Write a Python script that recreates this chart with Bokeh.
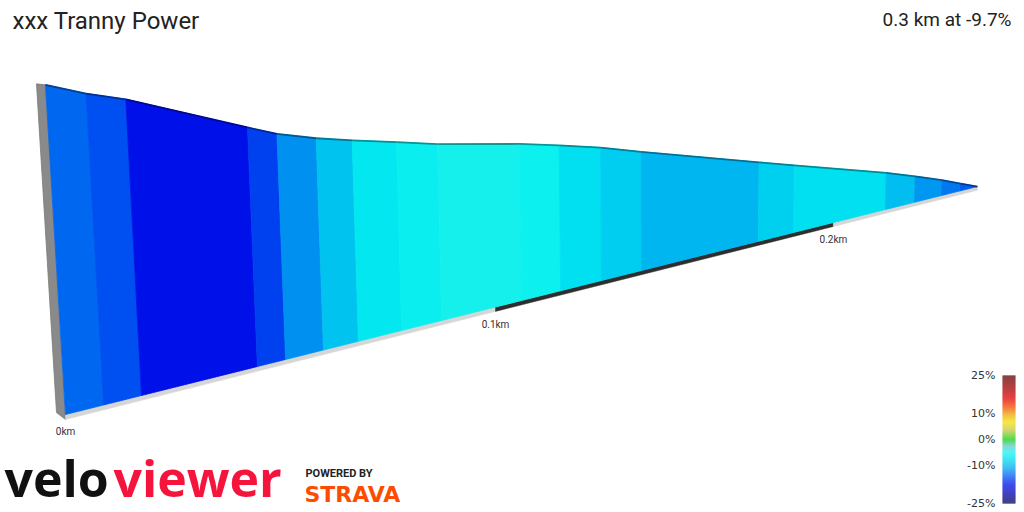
import math
from bokeh.plotting import figure
from bokeh.models import Range1d
from bokeh.core.properties import value
from bokeh.embed import file_html
from bokeh.resources import INLINE

# ---------------- data ----------------
title = "xxx Tranny Power"
dist_m = [0, 7.9, 15.9, 41.5, 48.0, 56.9, 65.3, 75.9, 86.0, 106.9, 117.6,
          129.0, 140.5, 175.8, 187.0, 217.6, 227.7, 237.3, 244.1, 250.3]
elev_m = [24.3, 23.2, 22.3, 18.6, 17.7, 16.8, 16.1, 15.3, 14.5, 13.2, 12.4,
          11.5, 10.4, 7.2, 6.2, 3.5, 2.5, 1.5, 0.7, 0.0]
grade_pct = [-13.7, -14.7, -17.5, -15.3, -12.0, -9.3, -6.6, -5.8, -4.8, -5.5,
             -7.3, -8.6, -10.1, -8.4, -7.3, -9.6, -11.7, -13.0, -14.1]
km_ticks = [0.0, 0.1, 0.2]
km_labels = ["0km", "0.1km", "0.2km"]
scale_ticks = [25, 10, 0, -10, -25]
scale_labels = ["25%", "10%", "0%", "-10%", "-25%"]

# ---------------- colour scale ----------------
stop_v = [-25, -21, -17.5, -15, -13, -11, -9, -7, -5, -2.5, 0, 4, 7, 10, 12.5, 16, 19, 25]
stop_c = ["#000050", "#0000b0", "#0010e8", "#0048f0", "#0078f0", "#00a8f0", "#00c8f0",
          "#00e4f0", "#10f4f0", "#60c8c8", "#10d010", "#d0c840", "#f0e000", "#f0a000",
          "#f05000", "#e80000", "#b00000", "#600000"]


def hex2rgb(h):
    return [int(h[i:i + 2], 16) for i in (1, 3, 5)]


def rgb2hex(c):
    return "#%02x%02x%02x" % tuple(max(0, min(255, int(round(v)))) for v in c)


def grade_color(v):
    v = max(stop_v[0], min(stop_v[-1], v))
    for i in range(len(stop_v) - 1):
        if stop_v[i] <= v <= stop_v[i + 1]:
            t = (v - stop_v[i]) / (stop_v[i + 1] - stop_v[i])
            a, b = hex2rgb(stop_c[i]), hex2rgb(stop_c[i + 1])
            return rgb2hex([a[j] + (b[j] - a[j]) * t for j in range(3)])
    return stop_c[-1]


def shade(h, f):
    return rgb2hex([c * f for c in hex2rgb(h)])


# ---------------- perspective view ----------------
X0, Y0 = 65.0, 414.0      # screen position of start of route (front bottom)
A, B = 4886.0, 1.363      # perspective along distance (px/km, 1/km)
SLOPE = -0.25             # screen slope of the base line
VPX, VPY = 675.0, 10474.0 # vanishing point of verticals
K = 13.59                 # px per metre of elevation at d=0
min_e = min(elev_m)


def base(dkm):
    s = 1.0 / (1.0 + B * dkm)
    xb = X0 + A * dkm * s
    yb = Y0 + SLOPE * (xb - X0)
    return xb, yb, s


def proj(dkm, h):
    xb, yb, s = base(dkm)
    vx, vy = xb - VPX, yb - VPY
    n = math.hypot(vx, vy)
    H = K * s * h
    return xb + vx / n * H, yb + vy / n * H


p = figure(width=1024, height=512, x_range=Range1d(0, 1024), y_range=Range1d(512, 0),
           output_backend="svg", toolbar_location=None,
           x_axis_location=None, y_axis_location=None, min_border=0)
p.grid.visible = False
p.outline_line_color = None
p.background_fill_color = "white"
p.border_fill_color = "white"

dkm = [d / 1000.0 for d in dist_m]
h = [e - min_e for e in elev_m]
end_km = dkm[-1]

# left (start) face of the slab
tx, ty = proj(0, h[0])
bx, by, s0 = base(0)
p.patch([tx, tx - 9, bx - 9, bx], [ty, ty - 1, by - 2, by + 5],
        fill_color="#8a8a8a", line_color="#7a7a7a", line_width=0.8)

# base strip with alternating 0.1 km sections
seg_edges = km_ticks + [end_km]
strip_cols = ["#d6d6d6", "#2e2e2e", "#d6d6d6"]
sxs, sys_, scs = [], [], []
for i in range(len(seg_edges) - 1):
    xa, ya, sa = base(seg_edges[i])
    xb2, yb2, sb = base(seg_edges[i + 1])
    sxs.append([xa, xb2, xb2, xa])
    sys_.append([ya, yb2, yb2 + 5 * sb, ya + 5 * sa])
    scs.append(strip_cols[i % len(strip_cols)])
p.patches(sxs, sys_, fill_color=scs, line_color=scs, line_width=0.5)

# wall bands coloured by gradient
xs, ys, cols, txs, tys, tcols = [], [], [], [], [], []
for i in range(len(dkm) - 1):
    xa, ya, _ = base(dkm[i])
    xb2, yb2, _ = base(dkm[i + 1])
    ta = proj(dkm[i], h[i])
    tb = proj(dkm[i + 1], h[i + 1])
    c = grade_color(grade_pct[i])
    xs.append([xa, xb2, tb[0], ta[0]])
    ys.append([ya, yb2, tb[1], ta[1]])
    cols.append(c)
    txs.append([ta[0], tb[0]])
    tys.append([ta[1], tb[1]])
    tcols.append(shade(c, 0.62))
p.patches(xs, ys, fill_color=cols, line_color=cols, line_width=0.8)
p.multi_line(txs, tys, line_color=tcols, line_width=1.8)

# distance labels
lx, ly = [], []
for d in km_ticks:
    x_, y_, _ = base(d)
    lx.append(x_)
    ly.append(y_ + 17)
p.text(lx, ly, text=km_labels, text_font=value("Roboto"), text_font_size="10px",
       text_align="center", text_baseline="middle", text_color="#333333")

# titles
p.text([12], [20], text=[title], text_font=value("Roboto"), text_font_size="24px",
       text_align="left", text_baseline="middle", text_color="#222222")
total_km = dist_m[-1] / 1000.0
avg = (elev_m[-1] - elev_m[0]) / dist_m[-1] * 100
p.text([1011], [19], text=["%.1f km at %.1f%%" % (total_km, avg)], text_font=value("Roboto"),
       text_font_size="19px", text_align="right", text_baseline="middle",
       text_color="#222222")

# colour bar
CB_TOP, CB_BOT = 375.0, 503.0


def vy(v):
    return CB_TOP + (stop_v[-1] - v) / (stop_v[-1] - stop_v[0]) * (CB_BOT - CB_TOP)


N = 128
vals = [stop_v[0] + (stop_v[-1] - stop_v[0]) * (i + 0.5) / N for i in range(N)]
step = (stop_v[-1] - stop_v[0]) / N
p.quad(left=[1002] * N, right=[1015] * N,
       top=[vy(v + step / 2) for v in vals], bottom=[vy(v - step / 2) for v in vals],
       fill_color=[grade_color(v) for v in vals], line_color=None)
p.text([995] * len(scale_ticks), [vy(v) for v in scale_ticks], text=scale_labels,
       text_font=value("DejaVu Sans"), text_font_size="11px", text_align="right",
       text_baseline="middle", text_color="#333333")

# logos
p.text([4], [511], text=["velo"], text_font=value("Open Sans"), text_font_style="bold",
       text_font_size="50px", text_baseline="bottom", text_color="#111111")
p.text([113], [511], text=["viewer"], text_font=value("Open Sans"), text_font_style="bold",
       text_font_size="50px", text_baseline="bottom", text_color="#f5143c")
p.text([305], [473], text=["POWERED BY"], text_font=value("Roboto"), text_font_style="bold",
       text_font_size="11px", text_baseline="middle", text_color="#222222")
p.text([304], [494], text=["STRAVA"], text_font=value("DejaVu Sans"), text_font_style="bold",
       text_font_size="22px", text_baseline="middle", text_color="#fc4c02")

open("out.html", "w").write(file_html(p, INLINE))
